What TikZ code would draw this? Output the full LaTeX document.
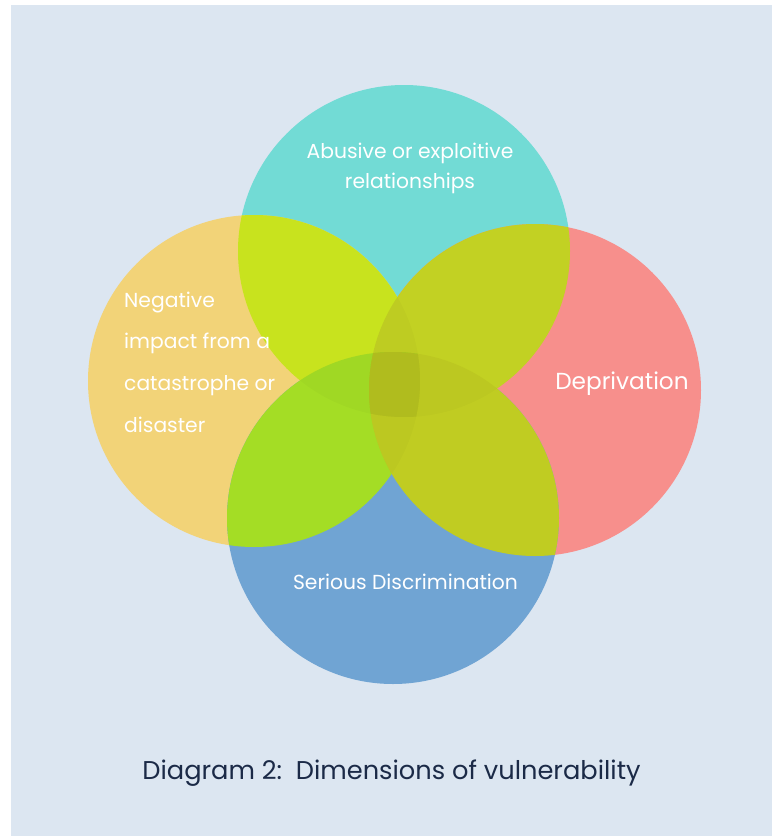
\documentclass[tikz,border=0pt]{standalone}
\usepackage{fontspec}
\setmainfont{Poppins}
\definecolor{bgblue}{HTML}{DCE6F1}
\definecolor{cteal}{HTML}{72DBD5}
\definecolor{corange}{HTML}{F2D378}
\definecolor{cpink}{HTML}{F78F8C}
\definecolor{cblue}{HTML}{70A4D3}
\definecolor{lensTL}{HTML}{C8E31E}
\definecolor{lensTR}{HTML}{C2D123}
\definecolor{lensBL}{HTML}{A4DD25}
\definecolor{lensBR}{HTML}{C0CC22}
\definecolor{capnavy}{HTML}{1B2A47}
\tikzset{
  bubble/.style={circle, minimum size=332pt, inner sep=0pt, outer sep=0pt, draw=none},
  lbl/.style={text=white, inner sep=0pt, font=\fontsize{20.3}{24}\selectfont},
  biglbl/.style={text=white, inner sep=0pt, font=\fontsize{23.2}{26}\selectfont},
  caption/.style={text=capnavy, inner sep=0pt, font=\fontsize{25.7}{30}\selectfont},
  darken/.style={fill=black, fill opacity=0.02}
}
\begin{document}
\begin{tikzpicture}[x=1pt,y=-1pt]
\useasboundingbox (0,0) rectangle (772,836);
\fill[bgblue] (11,5) rectangle (772,836);
\coordinate (cT) at (404,251);
\coordinate (cL) at (254,381);
\coordinate (cR) at (535,390);
\coordinate (cB) at (393,518);
\node[bubble, fill=cteal] (top) at (cT) {};
\node[bubble, fill=corange] (left) at (cL) {};
\node[bubble, fill=cpink] (right) at (cR) {};
\node[bubble, fill=cblue] (bottom) at (cB) {};
% lenses
\begin{scope}\clip (cT) circle[radius=166pt]; \fill[lensTL] (cL) circle[radius=166pt];\end{scope}
\begin{scope}\clip (cT) circle[radius=166pt]; \fill[lensTR] (cR) circle[radius=166pt];\end{scope}
\begin{scope}\clip (cL) circle[radius=166pt]; \fill[lensBL] (cB) circle[radius=166pt];\end{scope}
\begin{scope}\clip (cR) circle[radius=166pt]; \fill[lensBR] (cB) circle[radius=166pt];\end{scope}
% darker overlaps
\begin{scope}\clip (cT) circle[radius=166pt]; \clip (cL) circle[radius=166pt]; \fill[darken] (cR) circle[radius=166pt];\end{scope}
\begin{scope}\clip (cT) circle[radius=166pt]; \clip (cL) circle[radius=166pt]; \fill[darken] (cB) circle[radius=166pt];\end{scope}
\begin{scope}\clip (cB) circle[radius=166pt]; \clip (cR) circle[radius=166pt]; \fill[darken] (cT) circle[radius=166pt];\end{scope}
\begin{scope}\clip (cB) circle[radius=166pt]; \clip (cR) circle[radius=166pt]; \fill[darken] (cL) circle[radius=166pt];\end{scope}
% labels
\node[lbl, anchor=base] (abuse1) at (410,158) {Abusive or exploitive};
\node[lbl, anchor=base] (abuse2) at (410,188) {relationships};
\node[lbl, anchor=base west] (neg1) at (124,307) {Negative};
\node[lbl, anchor=base west] (neg2) at (124,348) {impact from a};
\node[lbl, anchor=base west] (neg3) at (124,390) {catastrophe or};
\node[lbl, anchor=base west] (neg4) at (124,432) {disaster};
\node[biglbl, anchor=base] (dep) at (622,389) {Deprivation};
\node[lbl, anchor=base] (disc) at (405.5,589) {Serious Discrimination};
\node[caption, anchor=base] (cap) at (391.5,779) {Diagram 2:\ \ Dimensions of vulnerability};
\end{tikzpicture}
\end{document}
